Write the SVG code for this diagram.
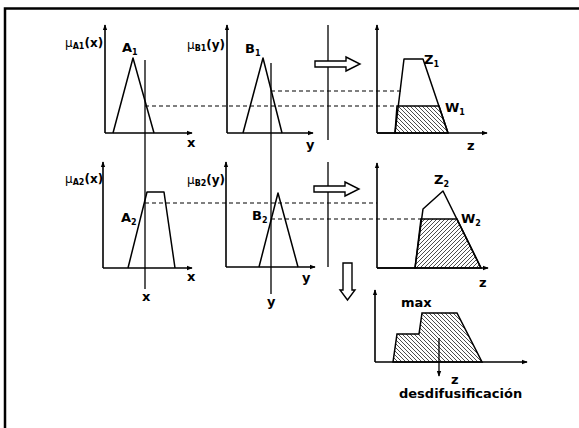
<svg xmlns="http://www.w3.org/2000/svg" width="579" height="428" viewBox="0 0 579 428">
<style>
.ax{stroke:#000;stroke-width:1.6;fill:none}
.sh{stroke:#000;stroke-width:1.5;fill:none;stroke-linejoin:round}
.vl{stroke:#000;stroke-width:1.3;fill:none}
.ds{stroke:#000;stroke-width:1.2;stroke-dasharray:4 3;fill:none}
.t{font-family:"DejaVu Sans",sans-serif;font-weight:bold;font-size:13px;fill:#000}
.m{font-family:"DejaVu Sans",sans-serif;font-weight:bold;font-size:12px;fill:#000}
.mu{font-weight:normal;font-size:12px}
.sb{font-size:8px}
.ha{fill:url(#hb);stroke:#000;stroke-width:1.5}
.hf{fill:url(#hf);stroke:#000;stroke-width:1.5}
.ar{fill:#fff;stroke:#000;stroke-width:1.4}
</style>
<defs>
<marker id="ah" viewBox="0 0 8 8" refX="7" refY="4" markerWidth="6" markerHeight="6" orient="auto" markerUnits="userSpaceOnUse">
<path d="M0,1 L8,4 L0,7 Z" fill="#000"/>
</marker>
<pattern id="hb" width="4" height="4" patternUnits="userSpaceOnUse">
<path d="M-1,-1 L5,5 M-1,3 L1,5 M3,-1 L5,1" stroke="#000" stroke-width="0.7"/>
</pattern>
<pattern id="hf" width="4" height="4" patternUnits="userSpaceOnUse">
<path d="M-1,5 L5,-1 M-1,1 L1,-1 M3,5 L5,3" stroke="#000" stroke-width="0.7"/>
</pattern>
</defs>
<rect width="579" height="428" fill="#fff"/>
<g id="frame">
<path d="M5,428 V8.5 H579" stroke="#000" stroke-width="2.5" fill="none"/>
</g>
<g id="connectors">
<path class="vl" d="M145,60 V289"/>
<path class="vl" d="M271,63 V294"/>
<path class="vl" d="M328,25 V140"/>
<path class="vl" d="M328,162 V267"/>
<path class="ds" d="M145,106 H396"/>
<path class="ds" d="M271,91 H401"/>
<path class="ds" d="M145,203 H377"/>
<path class="ds" d="M271,219 H421"/>
<path class="ar" d="M315,61 H346 V57 L360,64 L346,71 V67 H315 Z"/>
<path class="ar" d="M314,186 H345 V182 L359,189 L345,196 V192 H314 Z"/>
<path class="ar" d="M343,263 H352 V290 H355 L347.5,300 L340,290 H343 Z"/>
<path class="vl" d="M439,338 V376" marker-end="url(#ah)"/>
</g>
<g id="A1">
<path class="ax" d="M105,133 V25" marker-end="url(#ah)"/>
<path class="ax" d="M105,133 H192" marker-end="url(#ah)"/>
<path class="sh" d="M113,133 L133,58 L154,133"/>
<text class="m" x="65" y="47"><tspan class="mu">μ</tspan><tspan class="sb" dy="2">A1</tspan><tspan dy="-2">(x)</tspan></text>
<text class="t" x="122" y="52">A<tspan class="sb" dy="3">1</tspan></text>
<text class="t" x="187" y="147">x</text>
</g>
<g id="B1">
<path class="ax" d="M227,133 V25" marker-end="url(#ah)"/>
<path class="ax" d="M227,133 H313" marker-end="url(#ah)"/>
<path class="sh" d="M243,133 L263,58 L282,133"/>
<text class="m" x="187" y="49"><tspan class="mu">μ</tspan><tspan class="sb" dy="2">B1</tspan><tspan dy="-2">(y)</tspan></text>
<text class="t" x="245" y="53">B<tspan class="sb" dy="3">1</tspan></text>
<text class="t" x="306" y="149">y</text>
</g>
<g id="Z1">
<path class="ax" d="M377,133 V25" marker-end="url(#ah)"/>
<path class="ax" d="M377,133 H487" marker-end="url(#ah)"/>
<path class="ha" d="M395,133 L397,106 L439,106 L448,133 Z"/>
<path class="sh" d="M377,133 H395 L404,59 H423 L448,133"/>
<text class="t" x="424" y="64">Z<tspan class="sb" dy="3">1</tspan></text>
<text class="t" x="445" y="112">W<tspan class="sb" dy="3">1</tspan></text>
<text class="t" x="467" y="150">z</text>
</g>
<g id="A2">
<path class="ax" d="M103,268 V162" marker-end="url(#ah)"/>
<path class="ax" d="M103,268 H192" marker-end="url(#ah)"/>
<path class="sh" d="M128,268 L147,192 H164 L175,268"/>
<text class="m" x="65" y="183"><tspan class="mu">μ</tspan><tspan class="sb" dy="2">A2</tspan><tspan dy="-2">(x)</tspan></text>
<text class="t" x="121" y="222">A<tspan class="sb" dy="3">2</tspan></text>
<text class="t" x="187" y="281">x</text>
<text class="t" x="142" y="301">x</text>
</g>
<g id="B2">
<path class="ax" d="M226,267 V162" marker-end="url(#ah)"/>
<path class="ax" d="M226,267 H315" marker-end="url(#ah)"/>
<path class="sh" d="M259,267 L278,193 L298,267"/>
<text class="m" x="187" y="184"><tspan class="mu">μ</tspan><tspan class="sb" dy="2">B2</tspan><tspan dy="-2">(y)</tspan></text>
<text class="t" x="252" y="220">B<tspan class="sb" dy="3">2</tspan></text>
<text class="t" x="302" y="282">y</text>
<text class="t" x="267" y="306">y</text>
</g>
<g id="Z2">
<path class="ax" d="M377,268 V163" marker-end="url(#ah)"/>
<path class="ax" d="M377,268 H488" marker-end="url(#ah)"/>
<path class="hf" d="M415,268 L421,219 L457,219 L481,268 Z"/>
<path class="sh" d="M377,268 H415 L423,209 L443,191 L481,268"/>
<text class="t" x="434" y="184">Z<tspan class="sb" dy="3">2</tspan></text>
<text class="t" x="461" y="223">W<tspan class="sb" dy="3">2</tspan></text>
<text class="t" x="479" y="287">z</text>
</g>
<g id="result">
<path class="ax" d="M375,362 V290" marker-end="url(#ah)"/>
<path class="ax" d="M375,362 H527" marker-end="url(#ah)"/>
<path class="ha" d="M393,362 L397,334 H419 L422,313 H457 L482,362 Z"/>
<text class="t" x="401" y="307">max</text>
<text class="t" x="451" y="384">z</text>
<text class="t" x="399" y="398">desdifusificación</text>
</g>
</svg>
